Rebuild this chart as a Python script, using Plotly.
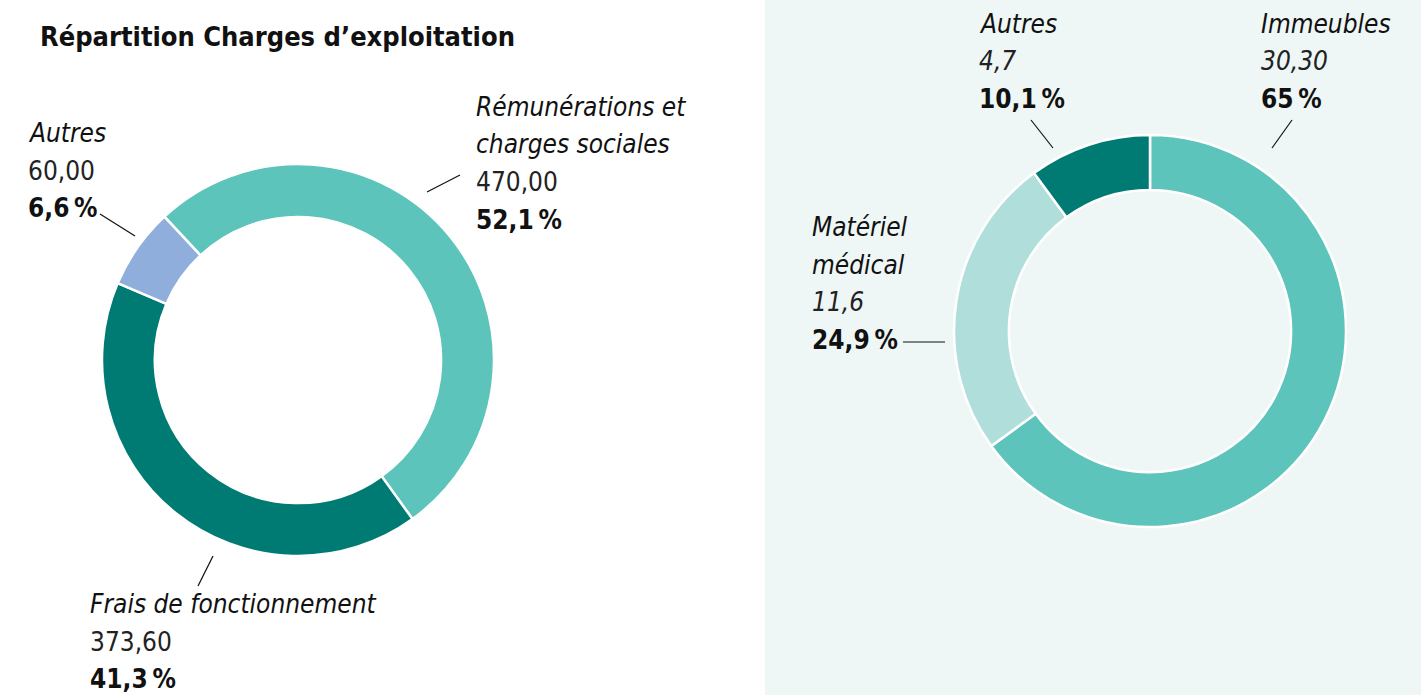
import plotly.graph_objects as go

W, H = 1421, 695

# ---- data ----
left_title = "Répartition Charges d’exploitation"
left_names = ["Rémunérations et charges sociales", "Frais de fonctionnement", "Autres"]
left_values = [470.00, 373.60, 60.00]
left_value_labels = ["470,00", "373,60", "60,00"]
left_pct_labels = ["52,1\u202f%", "41,3\u202f%", "6,6\u202f%"]
left_colors = ["#5DC4BC", "#007B73", "#8FAEDB"]

right_names = ["Immeubles", "Matériel médical", "Autres"]
right_values = [30.30, 11.6, 4.7]
right_value_labels = ["30,30", "11,6", "4,7"]
right_pct_labels = ["65\u202f%", "24,9\u202f%", "10,1\u202f%"]
right_colors = ["#5DC4BC", "#B0DFDB", "#007B73"]

FONT = "Liberation Sans Narrow, DejaVu Sans Condensed, Roboto Condensed, Arial Narrow, Liberation Sans, sans-serif"
FS = 26


def px(x):
    return x / W


def py(y):
    return 1 - y / H


fig = go.Figure()

fig.add_trace(go.Pie(
    labels=left_names, values=left_values, sort=False, direction="clockwise",
    rotation=-43, hole=0.73, textinfo="none", hoverinfo="label+value+percent",
    marker=dict(colors=left_colors, line=dict(color="white", width=2.5)),
    domain=dict(x=[px(102), px(494)], y=[py(556), py(164)]),
    showlegend=False,
))
fig.add_trace(go.Pie(
    labels=right_names, values=right_values, sort=False, direction="clockwise",
    rotation=0, hole=0.72, textinfo="none", hoverinfo="label+value+percent",
    marker=dict(colors=right_colors, line=dict(color="white", width=2.5)),
    domain=dict(x=[px(954), px(1346)], y=[py(527), py(135)]),
    showlegend=False,
))

shapes = [
    dict(type="rect", xref="paper", yref="paper", x0=px(765), x1=1, y0=0, y1=1,
         fillcolor="#EEF7F5", line=dict(width=0), layer="below"),
]
leaders = [
    (427, 192, 460, 175),   # Rémunérations
    (213, 556, 198, 586),   # Frais
    (100, 214, 135, 236),   # Autres (left)
    (1292, 120, 1272, 148),  # Immeubles
    (903, 342, 945, 342),   # Matériel
    (1031, 120, 1053, 148),  # Autres (right)
]
for x0, y0, x1, y1 in leaders:
    shapes.append(dict(type="line", xref="paper", yref="paper",
                       x0=px(x0), y0=py(y0), x1=px(x1), y1=py(y1),
                       line=dict(color="#111111", width=1.2)))

annotations = []


def txt(x, y, s, style="normal", weight="normal", color="#111111", size=FS):
    annotations.append(dict(
        x=px(x), y=py(y), xref="paper", yref="paper", xanchor="left", yanchor="middle",
        text=s, showarrow=False,
        font=dict(family=FONT, size=size, color=color, style=style, weight=weight),
    ))


txt(38, 36, left_title, weight="bold", size=27)

# left labels: (x, y of first line, name lines)
left_pos = [(474, 107, ["Rémunérations et", "charges sociales"]),
            (88, 604, ["Frais de fonctionnement"]),
            (26, 133, ["Autres"])]
LS = 37.5
for i, (x, y, lines) in enumerate(left_pos):
    for j, ln in enumerate(lines):
        txt(x, y + j * LS, ln, style="italic")
    n = len(lines)
    txt(x, y + n * LS, left_value_labels[i], color="#222222")
    txt(x, y + (n + 1) * LS, left_pct_labels[i], weight="bold")

right_pos = [(1259, 24, ["Immeubles"]),
             (810, 227, ["Matériel", "médical"]),
             (977, 24, ["Autres"])]
for i, (x, y, lines) in enumerate(right_pos):
    for j, ln in enumerate(lines):
        txt(x, y + j * LS, ln, style="italic")
    n = len(lines)
    txt(x, y + n * LS, right_value_labels[i], style="italic", color="#222222")
    txt(x, y + (n + 1) * LS, right_pct_labels[i], weight="bold")

fig.update_layout(
    width=W, height=H, margin=dict(l=0, r=0, t=0, b=0),
    paper_bgcolor="white", plot_bgcolor="white",
    shapes=shapes, annotations=annotations,
    font=dict(family=FONT),
)

fig.write_html("out.html", config={"displayModeBar": False},
               post_script="document.body.style.margin='0';document.body.style.overflow='hidden';")
